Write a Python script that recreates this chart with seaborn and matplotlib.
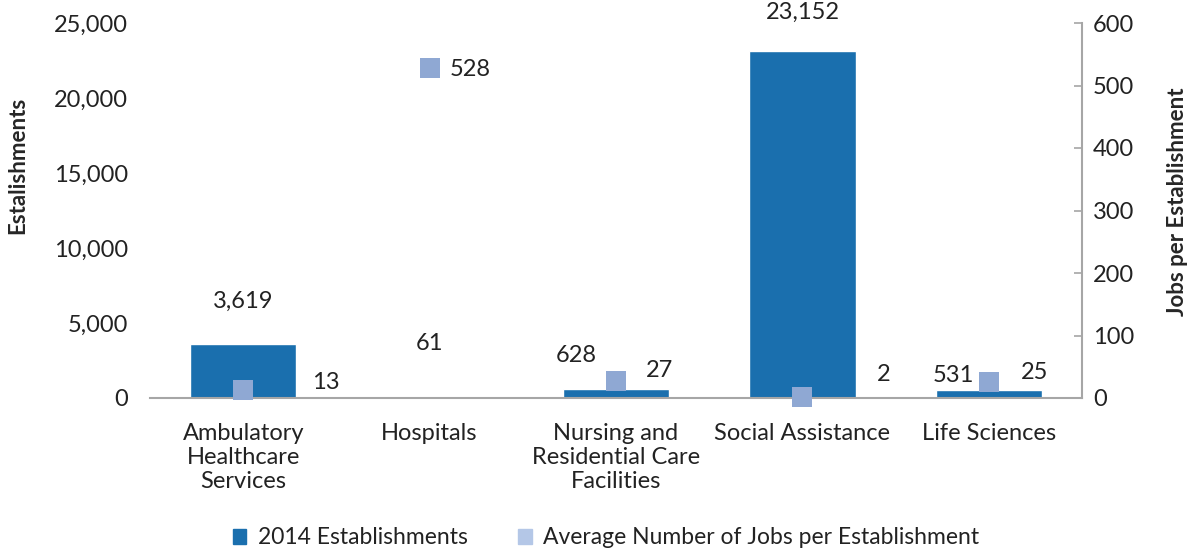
import matplotlib
matplotlib.use("Agg")
import matplotlib.pyplot as plt
from matplotlib.patches import Patch
from matplotlib.ticker import FuncFormatter
import pandas as pd
import seaborn as sns

categories = ["Ambulatory\nHealthcare\nServices", "Hospitals", "Nursing and\nResidential Care\nFacilities",
              "Social Assistance", "Life Sciences"]
establishments = [3619, 61, 628, 23152, 531]
jobs_per_est = [13, 528, 27, 2, 25]

bar_color = "#1a6fae"
marker_color = "#8fa8d3"
legend_light = "#b4c7e7"
axis_gray = "#a6a6a6"
text_color = "#222222"
fs = 17

sns.set_style("white")
plt.rcParams["font.family"] = ["Lato", "DejaVu Sans"]
plt.rcParams["font.size"] = fs

df = pd.DataFrame({"cat": categories, "est": establishments, "jobs": jobs_per_est})

fig = plt.figure(figsize=(11.93, 5.5), dpi=100)
ax = fig.add_axes([150 / 1193, 152 / 550, 932 / 1193, 375 / 550])
sns.barplot(data=df, x="cat", y="est", color=bar_color, width=0.57, saturation=1, ax=ax)
ax.set_ylim(0, 25000)
ax.set_xlim(-0.5, 4.5)
ax.yaxis.set_major_formatter(FuncFormatter(lambda v, p: f"{int(v):,}"))
ax.set_yticks(range(0, 25001, 5000))
ax.tick_params(axis="y", length=0, pad=16, labelsize=fs, colors=text_color)
ax.tick_params(axis="x", length=0, pad=18, labelsize=fs, colors=text_color)
for t in ax.get_xticklabels():
    t.set_linespacing(1.17)
ax.set_xlabel("")
ax.set_ylabel("Estalishments", fontsize=16, fontweight="bold")
ax.yaxis.set_label_coords(-0.1416, 0.621)
ax.yaxis.label.set_verticalalignment("center")
ax.yaxis.label.set_horizontalalignment("center")
for s in ["left", "top", "right"]:
    ax.spines[s].set_visible(False)
ax.spines["bottom"].set_color(axis_gray)
ax.spines["bottom"].set_linewidth(1.5)

# bar value labels (offset in pixels from bar top)
bar_offsets = [(0, 42), (0, 54), (-40, 33), (0, 38), (-35, 15)]
for i, v in enumerate(establishments):
    dx, dy = bar_offsets[i]
    ax.annotate(f"{v:,}", (i, v), xytext=(dx, dy), textcoords="offset pixels",
                ha="center", va="center", fontsize=fs, color=text_color)

ax2 = ax.twinx()
sns.scatterplot(data=df, x="cat", y="jobs", marker="s", s=200, color=marker_color,
                linewidth=0, ax=ax2, zorder=5, clip_on=False)
ax2.set_ylim(0, 600)
ax2.set_yticks(range(0, 601, 100))
ax2.tick_params(axis="y", direction="in", length=6, width=1.2, color=axis_gray, pad=8,
                labelsize=fs, labelcolor=text_color)
ax2.set_ylabel("Jobs per Establishment", fontsize=16, fontweight="bold")
ax2.yaxis.set_label_coords(1.103, 0.523)
ax2.yaxis.label.set_verticalalignment("center")
ax2.yaxis.label.set_horizontalalignment("center")
for s in ["left", "top", "bottom"]:
    ax2.spines[s].set_visible(False)
ax2.spines["right"].set_color(axis_gray)
ax2.spines["right"].set_linewidth(1.5)

marker_offsets = [(69, 7), (20, -2), (30, 11), (74, 22), (32, 10)]
for i, v in enumerate(jobs_per_est):
    dx, dy = marker_offsets[i]
    ax2.annotate(f"{v}", (i, v), xytext=(dx, dy), textcoords="offset pixels",
                 ha="left", va="center", fontsize=fs, color=text_color)

handles = [Patch(color=bar_color, label="2014 Establishments"),
           Patch(color=legend_light, label="Average Number of Jobs per Establishment")]
fig.legend(handles=handles, loc="center", bbox_to_anchor=(606 / 1193, 1 - 538 / 550),
           ncol=2, frameon=False, fontsize=16.5, handlelength=0.6, handleheight=0.6,
           handletextpad=0.5, columnspacing=2.2, labelcolor=text_color)

fig.savefig("out.png", dpi=100)
